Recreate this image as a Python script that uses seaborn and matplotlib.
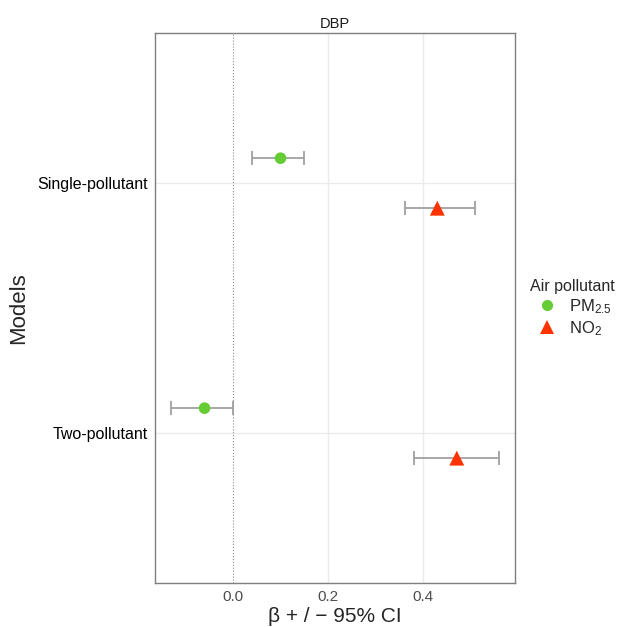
import numpy as np
import pandas as pd
import matplotlib
matplotlib.use("Agg")
import matplotlib.pyplot as plt
import seaborn as sns

# data
models = ["Single-pollutant", "Single-pollutant", "Two-pollutant", "Two-pollutant"]
pollutants = ["PM$_{2.5}$", "NO$_2$", "PM$_{2.5}$", "NO$_2$"]
beta = [0.100, 0.430, -0.060, 0.471]
ci_low = [0.039, 0.361, -0.131, 0.380]
ci_high = [0.150, 0.509, -0.001, 0.560]

model_order = ["Single-pollutant", "Two-pollutant"]
pollutant_order = ["PM$_{2.5}$", "NO$_2$"]
colors = {"PM$_{2.5}$": "#66CC33", "NO$_2$": "#FF3300"}
markers = {"PM$_{2.5}$": "o", "NO$_2$": "^"}
marker_sizes = {"PM$_{2.5}$": 70, "NO$_2$": 115}
dodge = {"PM$_{2.5}$": -0.1, "NO$_2$": 0.1}

df = pd.DataFrame({"Models": models, "Air pollutant": pollutants,
                   "beta": beta, "lo": ci_low, "hi": ci_high})
df["ypos"] = [model_order.index(m) + dodge[p] for m, p in zip(df["Models"], df["Air pollutant"])]

sns.set_theme(style="white")
plt.rcParams["font.family"] = ["Liberation Sans", "DejaVu Sans"]
plt.rcParams["mathtext.default"] = "regular"

fig = plt.figure(figsize=(6.23, 6.27), dpi=100)
ax = fig.add_axes([0.249, 0.070, 0.578, 0.877])

# grid lines
for xv in [0.2, 0.4]:
    ax.axvline(xv, color="#EBEBEB", lw=1, zorder=0)
for yv in range(len(model_order)):
    ax.axhline(yv, color="#EBEBEB", lw=1, zorder=0)
ax.axvline(0, color="#888888", lw=0.8, ls=":", zorder=1)

# error bars
ax.errorbar(df["beta"], df["ypos"],
            xerr=[df["beta"] - df["lo"], df["hi"] - df["beta"]],
            fmt="none", ecolor="#A0A0A0", elinewidth=1.3, capsize=5, capthick=1.3, zorder=2)

sns.scatterplot(data=df, x="beta", y="ypos", hue="Air pollutant", style="Air pollutant",
                size="Air pollutant", sizes=marker_sizes,
                hue_order=pollutant_order, style_order=pollutant_order, size_order=pollutant_order,
                palette=colors, markers=markers, linewidth=0, ax=ax, zorder=3)

ax.set_xlim(-0.164, 0.594)
ax.set_ylim(1.6, -0.6)
ax.set_xticks([0.0, 0.2, 0.4])
ax.set_xticklabels(["0.0", "0.2", "0.4"], color="#4D4D4D", fontsize=11)
ax.set_yticks(range(len(model_order)))
ax.set_yticklabels(model_order, fontsize=11.5, color="black")
ax.tick_params(axis="both", length=3, width=0.6, color="#333333", pad=2)
for sp in ax.spines.values():
    sp.set_color("#7F7F7F")
    sp.set_linewidth(1)

ax.set_xlabel("β + / − 95% CI", fontsize=15, labelpad=2)
ax.set_ylabel("Models", fontsize=16, labelpad=6)
ax.set_title("DBP", fontsize=10.5, pad=4, color="#1A1A1A")

leg = ax.legend(title="Air pollutant", loc="center left", bbox_to_anchor=(1.01, 0.5),
                frameon=False, fontsize=12, title_fontsize=11.5,
                handletextpad=0.3, labelspacing=0.2, borderaxespad=0.3)
leg._legend_box.align = "left"
for h, ms in zip(leg.legend_handles, [8, 10]):
    h.set_markersize(ms)

fig.savefig("out.png", dpi=100)
